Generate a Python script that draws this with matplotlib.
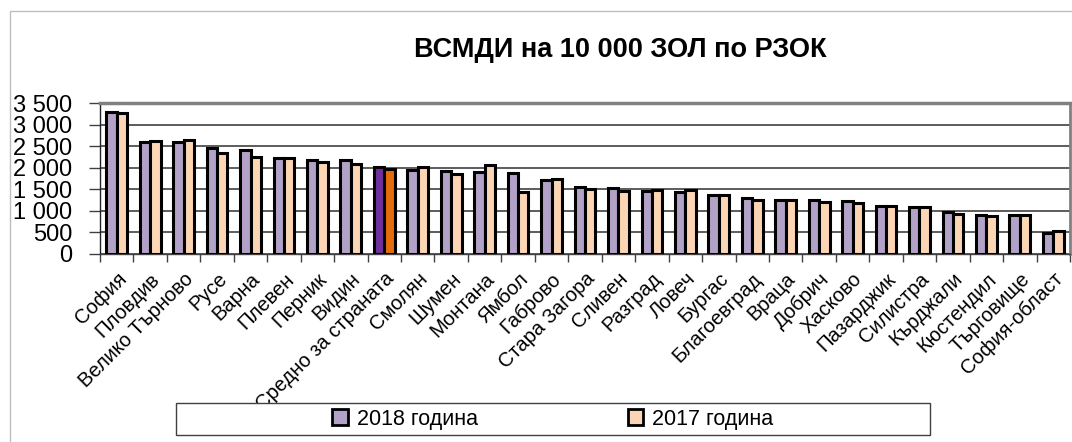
import matplotlib
matplotlib.use('Agg')
import matplotlib.pyplot as plt
from matplotlib.patches import Rectangle, Patch
import numpy as np

plt.rcParams['font.family'] = ['Liberation Sans', 'DejaVu Sans']

categories = ['София', 'Пловдив', 'Велико Търново', 'Русе', 'Варна', 'Плевен',
              'Перник', 'Видин', 'Средно за страната', 'Смолян', 'Шумен',
              'Монтана', 'Ямбол', 'Габрово', 'Стара Загора', 'Сливен',
              'Разград', 'Ловеч', 'Бургас', 'Благоевград', 'Враца', 'Добрич',
              'Хасково', 'Пазарджик', 'Силистра', 'Кърджали', 'Кюстендил',
              'Търговище', 'София-област']
values_2018 = [3300, 2605, 2597, 2466, 2404, 2234, 2180, 2172, 2010, 1948,
               1917, 1894, 1886, 1709, 1562, 1531, 1454, 1446, 1376, 1291,
               1253, 1245, 1237, 1121, 1098, 967, 913, 905, 488]
values_2017 = [3262, 2610, 2644, 2350, 2257, 2234, 2134, 2080, 1979, 2010,
               1848, 2057, 1446, 1740, 1500, 1469, 1477, 1477, 1376, 1245,
               1260, 1199, 1175, 1121, 1083, 920, 890, 905, 526]
series_labels = ['2018 година', '2017 година']
highlight = 'Средно за страната'
title = 'ВСМДИ на 10 000 ЗОЛ по РЗОК'
yticks = [0, 500, 1000, 1500, 2000, 2500, 3000, 3500]

W, H = 1072, 442
fig = plt.figure(figsize=(W / 100, H / 100), dpi=100)
fig.patch.set_facecolor('white')

# outer chart frame
fig.add_artist(Rectangle((10 / W, -0.1), 1.2, 1 - 11 / H + 0.1,
                         transform=fig.transFigure, fill=False,
                         edgecolor='#BFBFBF', linewidth=1, zorder=0))

ax = fig.add_axes([100 / W, 1 - 254 / H, 970 / W, 151 / H])
x = np.arange(len(categories))
c18 = ['#7030A0' if c == highlight else '#B3A2C7' for c in categories]
c17 = ['#E46C0A' if c == highlight else '#FCD5B5' for c in categories]
bw = 0.31
ax.bar(x - bw / 2, values_2018, bw, color=c18, edgecolor='black', linewidth=2.2, zorder=3)
ax.bar(x + bw / 2, values_2017, bw, color=c17, edgecolor='black', linewidth=2.2, zorder=3)

ax.set_xlim(-0.5, len(categories) - 0.5)
ax.set_ylim(0, 3500)
ax.set_yticks(yticks)
ax.set_yticklabels([f'{v:,}'.replace(',', ' ') for v in yticks], fontsize=17)
ax.yaxis.grid(True, color='#303030', linewidth=1.1)
ax.set_axisbelow(True)
ax.tick_params(axis='y', length=8, width=1, pad=12, color='#404040')

ax.set_xticks(x)
ax.set_xticklabels(categories, rotation=45, ha='right', va='top',
                   rotation_mode='anchor', fontsize=14.5)
ax.tick_params(axis='x', which='major', length=0, pad=11)
ax.set_xticks(np.arange(-0.5, len(categories)), minor=True)
ax.tick_params(axis='x', which='minor', length=6, width=1, color='#404040')

ax.spines['top'].set_color('#808080')
ax.spines['top'].set_linewidth(2.5)
ax.spines['right'].set_color('#808080')
ax.spines['right'].set_linewidth(2)
ax.spines['left'].set_color('#202020')
ax.spines['left'].set_linewidth(1)
ax.spines['bottom'].set_color('#404040')
ax.spines['bottom'].set_linewidth(1)

fig.text(620 / W, 1 - 50 / H, title, ha='center', va='center',
         fontsize=19.5, fontweight='bold')

# legend box
fig.add_artist(Rectangle((176 / W, 1 - 435 / H), (930 - 176) / W, 32 / H,
                         transform=fig.transFigure, facecolor='white',
                         edgecolor='#404040', linewidth=1, zorder=5))
handles = [Patch(facecolor='#B3A2C7', edgecolor='black', linewidth=2),
           Patch(facecolor='#FCD5B5', edgecolor='black', linewidth=2)]
leg = fig.legend(handles, series_labels, loc='center',
                 bbox_to_anchor=(553 / W, 1 - 419 / H), ncol=2, frameon=False,
                 fontsize=15.5, handlelength=0.7, handleheight=0.7,
                 handletextpad=0.42, columnspacing=7.0)
leg.set_zorder(6)

fig.savefig('out.png', dpi=100)
